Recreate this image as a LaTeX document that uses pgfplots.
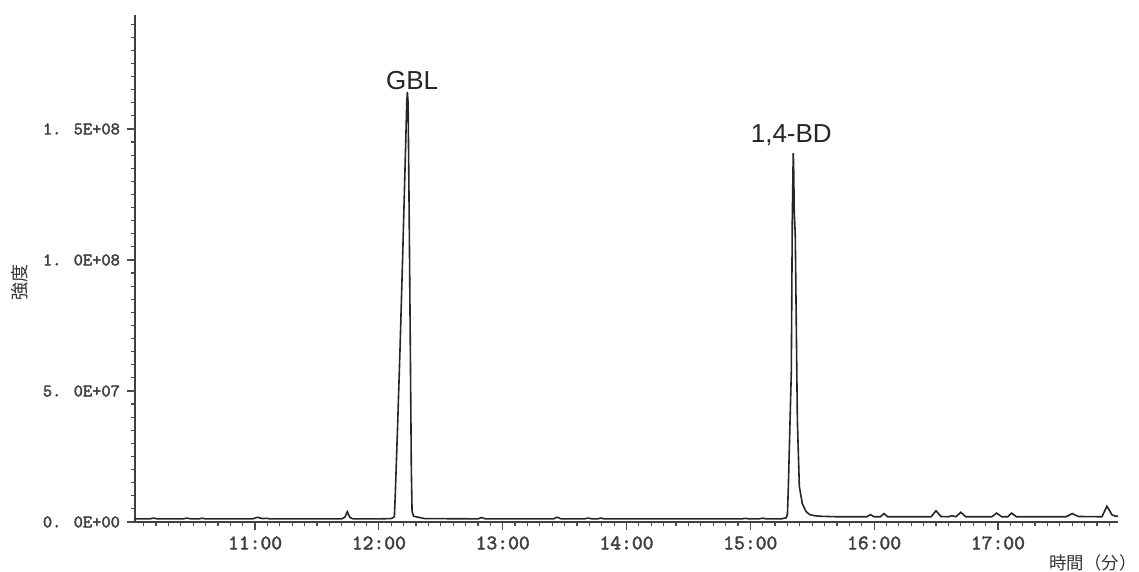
\documentclass[border=0pt]{standalone}
\usepackage{pgfplots}
\pgfplotsset{compat=1.18}
\usepackage{fontspec}
\setmainfont{Liberation Sans}
\newfontfamily\cjk{Noto Sans CJK JP}
\newfontfamily\tickfont{lmmono10-regular.otf}[FakeBold=2.2]
\usepackage{pgfplotstable}
\pgfplotstableread{
t y
10.03 1.2e6
10.15 1.2e6
10.18 1.5e6
10.21 1.2e6
10.42 1.2e6
10.45 1.5e6
10.48 1.2e6
10.55 1.2e6
10.57 1.45e6
10.60 1.2e6
10.98 1.2e6
11.02 1.8e6
11.06 1.3e6
11.09 1.4e6
11.12 1.2e6
11.70 1.2e6
11.725 1.8e6
11.745 3.9e6
11.765 1.8e6
11.79 1.2e6
12.00 1.2e6
12.10 1.3e6
12.125 2e6
12.132 1e7
12.15 3.5e7
12.17 6.5e7
12.19 9.8e7
12.21 1.33e8
12.225 1.6e8
12.230 1.641e8
12.236 1.6e8
12.245 1.15e8
12.255 6e7
12.262 2e7
12.268 4e6
12.28 2.2e6
12.32 1.8e6
12.37 1.3e6
12.80 1.2e6
12.83 1.7e6
12.86 1.2e6
13.41 1.2e6
13.44 1.85e6
13.47 1.2e6
13.66 1.2e6
13.69 1.5e6
13.72 1.2e6
13.77 1.2e6
13.79 1.5e6
13.82 1.2e6
14.93 1.2e6
14.96 1.4e6
14.99 1.2e6
15.07 1.2e6
15.10 1.45e6
15.13 1.2e6
15.25 1.2e6
15.29 1.6e6
15.30 3e6
15.307 1.3e7
15.331 5.7e7
15.339 1.15e8
15.345 1.35e8
15.347 1.408e8
15.350 1.36e8
15.355 1.18e8
15.363 1.1e8
15.38 3.9e7
15.396 1.35e7
15.42 7e6
15.45 4e6
15.48 2.8e6
15.52 2.4e6
15.56 2.2e6
15.70 2.0e6
15.94 2.0e6
15.97 2.8e6
16.00 2.0e6
16.05 2.0e6
16.08 3.2e6
16.11 2.0e6
16.46 2.0e6
16.50 4.3e6
16.54 2.1e6
16.60 2.0e6
16.63 2.4e6
16.66 2.0e6
16.70 3.7e6
16.74 2.0e6
16.95 2.0e6
16.99 3.4e6
17.03 2.0e6
17.08 2.0e6
17.11 3.4e6
17.15 2.0e6
17.55 2.0e6
17.60 3.2e6
17.65 2.1e6
17.84 2.0e6
17.86 4e6
17.88 6.0e6
17.90 4.5e6
17.92 2.8e6
17.95 2.2e6
17.97 2.2e6
}\chrom
\begin{document}
\begin{tikzpicture}
\begin{axis}[
  at={(0,0)}, anchor=south west,
  scale only axis, width=491.5pt, height=253.5pt,
  xmin=10.03, xmax=17.97, ymin=0, ymax=1.935e8,
  axis x line=bottom, axis y line=left,
  axis line style={-, black!75, line width=0.75pt},
  tick align=outside,
  major tick length=4pt, minor tick length=2.2pt,
  tick style={black!70, line width=0.6pt},
  xtick={11,12,13,14,15,16,17},
  xticklabels={11:00,12:00,13:00,14:00,15:00,16:00,17:00},
  minor xtick={10.1,10.2,...,17.95},
  ytick={0,5e7,1e8,1.5e8},
  yticklabels={0. 0E+00,5. 0E+07,1. 0E+08,1. 5E+08},
  minor ytick={5e6,1e7,1.5e7,2e7,2.5e7,3e7,3.5e7,4e7,4.5e7,5.5e7,6e7,6.5e7,7e7,7.5e7,8e7,8.5e7,9e7,9.5e7,1.05e8,1.1e8,1.15e8,1.2e8,1.25e8,1.3e8,1.35e8,1.4e8,1.45e8,1.55e8,1.6e8,1.65e8,1.7e8,1.75e8,1.8e8,1.85e8,1.9e8},
  scaled y ticks=false,
  xticklabel style={font=\tickfont\fontsize{10.3}{12}\selectfont, text=black!75, anchor=center, yshift=-6.5pt},
  yticklabel style={font=\tickfont\fontsize{8.8}{11}\selectfont, text=black!75, anchor=east},
  clip=false,
]
\addplot[black!85, line width=0.8pt] table[x=t,y=y] {\chrom};
\node[anchor=base, font=\fontsize{13}{15}\selectfont, text=black!85] at (axis cs:12.268,1.649e8) {GBL};
\node[anchor=base, font=\fontsize{13}{15}\selectfont, text=black!85] at (axis cs:15.331,1.447e8) {1,4-BD};
\end{axis}
\node[font=\cjk\fontsize{9}{10}\selectfont, rotate=90, text=black!80] at (-57.5pt,119.5pt) {強度};
\node[font=\cjk\fontsize{8.7}{10}\selectfont, anchor=west, inner sep=0pt, text=black!80] at (457pt,-20.5pt) {時間（分）};
\pgfresetboundingbox
\path[use as bounding box] (-67.5pt,-25pt) rectangle (502pt,261pt);
\end{tikzpicture}
\end{document}
